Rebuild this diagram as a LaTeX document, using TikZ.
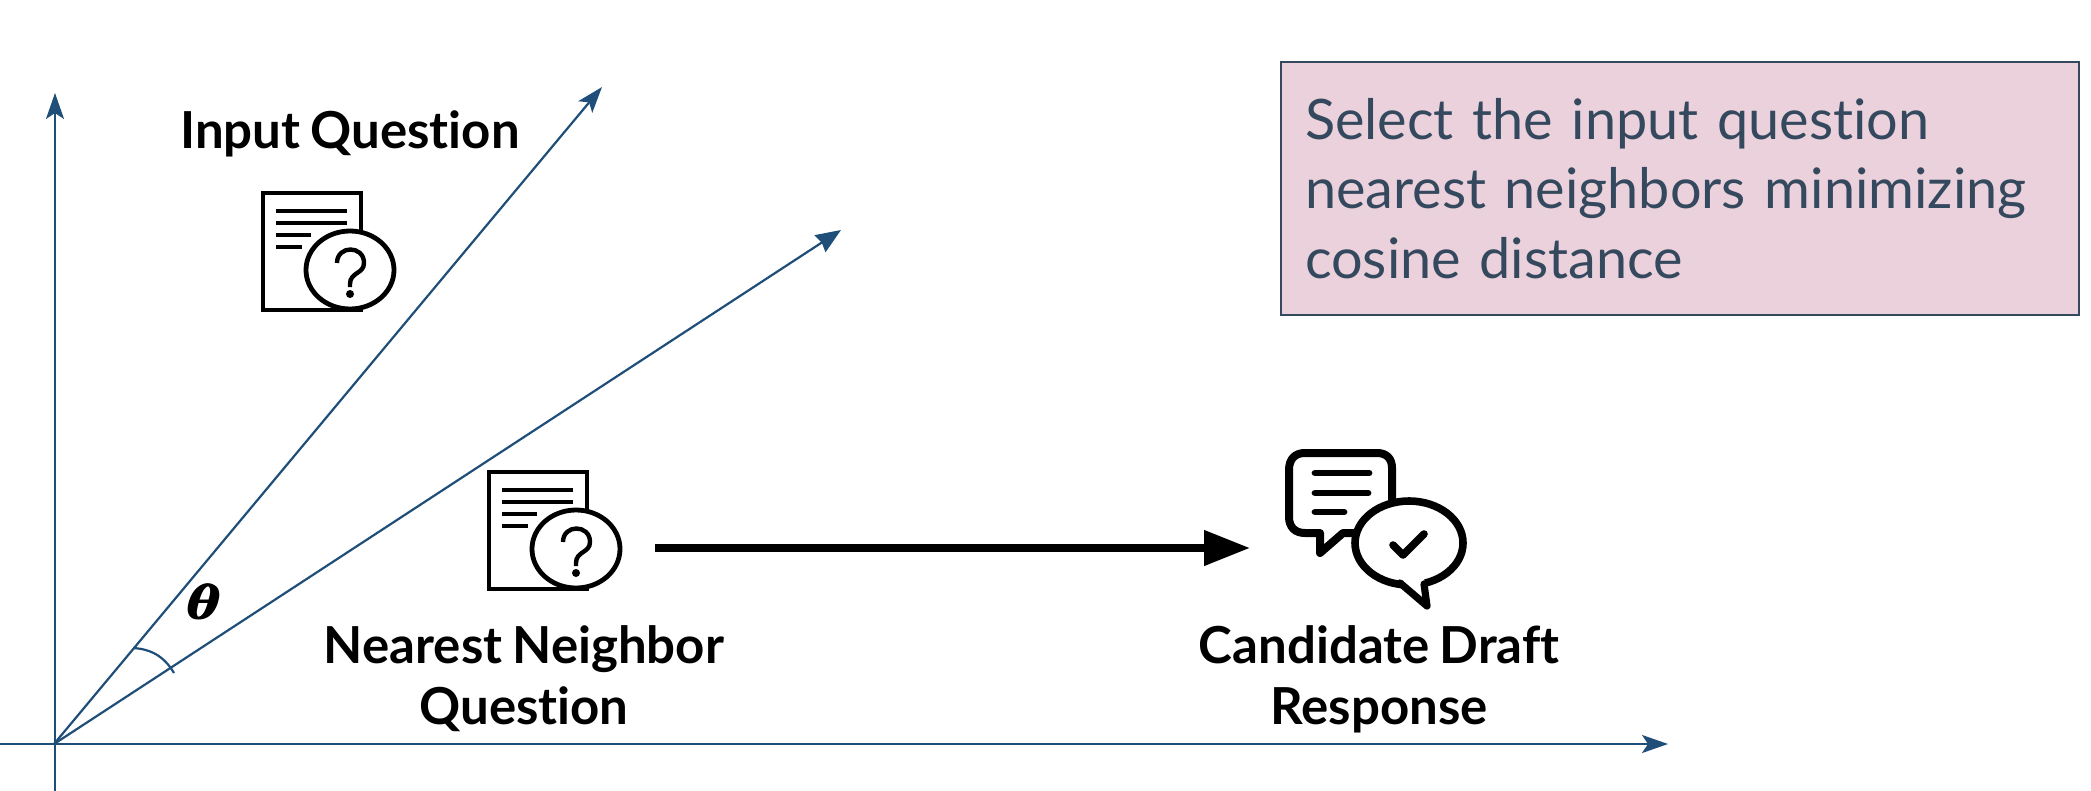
\documentclass[tikz,border=0pt]{standalone}
\usepackage{amsmath, bm}
\usepackage{fontspec}
\setmainfont{Lato}[Ligatures=NoCommon, WordSpace=0.8]
\usetikzlibrary{arrows.meta, positioning}
\definecolor{axisBlue}{HTML}{1F4E79}
\definecolor{noteSlate}{HTML}{35495E}
\definecolor{notePink}{HTML}{EBD1DC}
\tikzset{
    axisline/.style={axisBlue, line width=1.1pt, -{Stealth[length=13pt, width=9pt, inset=3pt]}},
    rayline/.style={axisBlue, line width=1.1pt, -{Stealth[length=12.5pt, width=10pt, inset=1pt]}},
    label/.style={font=\fontsize{25.5}{30.5}\selectfont\bfseries, align=center, text=black},
    notebox/.style={draw=noteSlate, fill=notePink, line width=1pt, text=noteSlate, align=left, anchor=north west,
        minimum width=399pt, minimum height=126.5pt, inner xsep=12pt, text width=375pt,
        font=\fontsize{27.9}{34.7}\selectfont},
    questiondoc/.pic={
        \draw[line width=2.2pt] (-87,-77) rectangle (11,40);
        \foreach \y/\xend in {-59/-3, -47/-3, -35/-39, -23/-48}
            \draw[line width=2.2pt] (-74,\y) -- (\xend,\y);
        \draw[line width=2.4pt, fill=white] (0,0) ellipse [x radius=44, y radius=39];
        \draw[line width=2.2pt] (-13,-7) .. controls (-13,-25) and (14,-25) .. (14,-7)
            .. controls (14,4) and (0,2) .. (0,14) -- (0,17);
        \fill (0,24) circle (2pt);
    },
}
\begin{document}
\begin{tikzpicture}[x=0.5pt, y=-0.5pt]
    \useasboundingbox (0,0) rectangle (2091,791);

    \coordinate (O) at (54,744);
    \coordinate (yTip) at (55,93);
    \coordinate (yEnd) at (55,791);
    \coordinate (xTip) at (1668,744);
    \coordinate (xEnd) at (0,744);
    \coordinate (inputTip) at (602,87);
    \coordinate (neighborTip) at (841,230);
    \coordinate (arcStart) at (133,648);
    \coordinate (arcEnd) at (174,673);
    \coordinate (flowStart) at (655,548);
    \coordinate (flowEnd) at (1250,548);

    % axes and the two vectors
    \draw[axisline] (yEnd) -- (yTip);
    \draw[axisline] (xEnd) -- (xTip);
    \draw[axisline] (O) -- (inputTip);
    \draw[rayline] (O) -- (neighborTip);
    \draw[axisBlue, line width=1.1pt] (arcStart) to[bend left=28] (arcEnd);
    \node[font=\fontsize{36}{36}\selectfont, xscale=1.15] (thetaLabel) at (205,602) {$\pmb{\bm{\theta}}$};

    \pic at (350,270) {questiondoc};
    \pic at (576,549) {questiondoc};

    \node[label] (inputLabel) at (350,134) {Input Question};
    \node[label] (neighborLabel) at (524,679) {Nearest Neighbor\\Question};
    \node[label] (draftLabel) at (1379,679) {Candidate Draft\\Response};

    \draw[line width=3.8pt, -{Triangle[length=23pt, width=17pt]}] (flowStart) -- (flowEnd);

    % speech bubbles of the draft response
    \draw[line width=4pt, line join=round] (1392,500) -- (1392,468) .. controls (1392,458) and (1386,453) .. (1377,453)
        -- (1305,453) .. controls (1295,453) and (1289,459) .. (1289,470) -- (1289,517)
        .. controls (1289,527) and (1295,533) .. (1305,533) -- (1320,533) -- (1320,553) -- (1343,533) -- (1358,533);
    \foreach \y/\xend in {473/1369, 493/1368, 512/1344}
        \draw[line width=3.4pt, line cap=round] (1315,\y) -- (\xend,\y);
    \draw[line width=3.8pt, fill=white] (1409,543) ellipse [x radius=54, y radius=42];
    \fill[white] (1400,581) -- (1427,606) -- (1424,578) -- cycle;
    \draw[line width=3.6pt, line join=round, line cap=round] (1400,583) -- (1427,606) -- (1424,584);
    \draw[line width=3.8pt, line cap=round, line join=round] (1393,545) -- (1403,555) -- (1424,534);

    \node[notebox] (noteBox) at (1280,61) {Select the input question\\nearest neighbors minimizing\\cosine distance};
\end{tikzpicture}
\end{document}
